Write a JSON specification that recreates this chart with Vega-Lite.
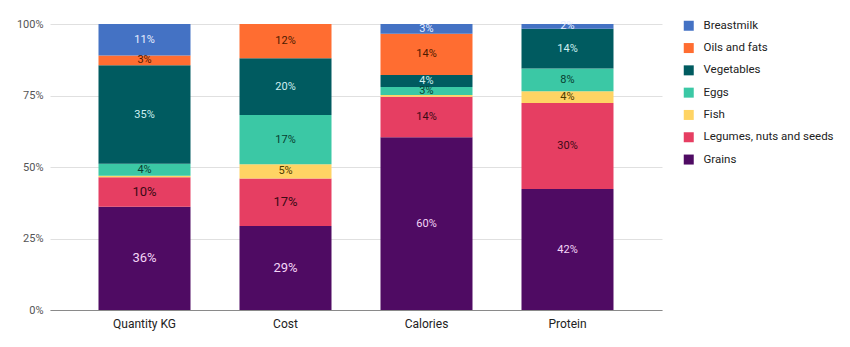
{
  "$schema": "https://vega.github.io/schema/vega-lite/v6.json",
  "width": 612,
  "height": 286,
  "autosize": "none",
  "padding": {"left": 50, "top": 24, "right": 188, "bottom": 37},
  "background": "white",
  "config": {"font": "Roboto", "view": {"stroke": null}},
  "data": {
    "values": [
      {"metric": "Quantity KG", "category": "Grains", "value": 0.361},
      {"metric": "Quantity KG", "category": "Legumes, nuts and seeds", "value": 0.103},
      {"metric": "Quantity KG", "category": "Fish", "value": 0.005},
      {"metric": "Quantity KG", "category": "Eggs", "value": 0.042},
      {"metric": "Quantity KG", "category": "Vegetables", "value": 0.345},
      {"metric": "Quantity KG", "category": "Oils and fats", "value": 0.034},
      {"metric": "Quantity KG", "category": "Breastmilk", "value": 0.110},
      {"metric": "Cost", "category": "Grains", "value": 0.294},
      {"metric": "Cost", "category": "Legumes, nuts and seeds", "value": 0.166},
      {"metric": "Cost", "category": "Fish", "value": 0.050},
      {"metric": "Cost", "category": "Eggs", "value": 0.172},
      {"metric": "Cost", "category": "Vegetables", "value": 0.198},
      {"metric": "Cost", "category": "Oils and fats", "value": 0.120},
      {"metric": "Calories", "category": "Grains", "value": 0.604},
      {"metric": "Calories", "category": "Legumes, nuts and seeds", "value": 0.142},
      {"metric": "Calories", "category": "Fish", "value": 0.006},
      {"metric": "Calories", "category": "Eggs", "value": 0.028},
      {"metric": "Calories", "category": "Vegetables", "value": 0.042},
      {"metric": "Calories", "category": "Oils and fats", "value": 0.144},
      {"metric": "Calories", "category": "Breastmilk", "value": 0.034},
      {"metric": "Protein", "category": "Grains", "value": 0.423},
      {"metric": "Protein", "category": "Legumes, nuts and seeds", "value": 0.301},
      {"metric": "Protein", "category": "Fish", "value": 0.041},
      {"metric": "Protein", "category": "Eggs", "value": 0.079},
      {"metric": "Protein", "category": "Vegetables", "value": 0.139},
      {"metric": "Protein", "category": "Breastmilk", "value": 0.017}
    ]
  },
  "transform": [
    {"calculate": "indexof(['Grains','Legumes, nuts and seeds','Fish','Eggs','Vegetables','Oils and fats','Breastmilk'], datum.category)", "as": "ord"}
  ],
  "encoding": {
    "x": {
      "field": "metric", "type": "nominal",
      "sort": ["Quantity KG", "Cost", "Calories", "Protein"],
      "scale": {"paddingInner": 0.3475, "paddingOuter": 0.344},
      "axis": {"title": null, "labelAngle": 0, "ticks": false, "domainColor": "#8a8a8a", "labelFontSize": 12, "labelColor": "#222", "labelPadding": 8}
    },
    "order": {"field": "ord", "type": "quantitative"}
  },
  "layer": [
    {
      "mark": {"type": "bar"},
      "encoding": {
        "y": {
          "field": "value", "type": "quantitative", "stack": "zero",
          "scale": {"domain": [0, 1]},
          "axis": {"title": null, "format": ".0%", "values": [0, 0.25, 0.5, 0.75, 1], "domain": false, "ticks": false, "labelPadding": 7, "labelFontSize": 11, "labelColor": "#555", "gridColor": "#e0e0e0"}
        },
        "color": {
          "field": "category", "type": "nominal",
          "scale": {
            "domain": ["Breastmilk", "Oils and fats", "Vegetables", "Eggs", "Fish", "Legumes, nuts and seeds", "Grains"],
            "range": ["#4472c4", "#ff6d31", "#005b60", "#3bc8a5", "#ffd464", "#e63e62", "#4f0b63"]
          },
          "legend": {"title": null, "orient": "none", "legendX": 633, "legendY": -4, "symbolType": "square", "symbolSize": 100, "symbolStrokeWidth": 0, "labelFontSize": 11.5, "labelColor": "#222", "labelOffset": 9, "rowPadding": 9.3}
        }
      }
    },
    {
      "mark": {"type": "text", "baseline": "middle", "align": "center"},
      "encoding": {
        "y": {"field": "value", "type": "quantitative", "stack": "zero", "bandPosition": 0.5},
        "text": {"condition": {"test": "datum.value < 0.01", "value": ""}, "field": "value", "type": "quantitative", "format": ".0%"},
        "size": {"condition": {"test": "(datum.metric === 'Quantity KG' || datum.metric === 'Cost') && (datum.category === 'Grains' || datum.category === 'Legumes, nuts and seeds')", "value": 13}, "value": 11},
        "color": {
          "condition": [
            {"test": "datum.category === 'Grains'", "value": "#f4d6f7"},
            {"test": "datum.category === 'Vegetables'", "value": "#cfeff0"},
            {"test": "datum.category === 'Breastmilk'", "value": "#e8eeff"},
            {"test": "datum.category === 'Legumes, nuts and seeds'", "value": "#3b0a15"},
            {"test": "datum.category === 'Oils and fats'", "value": "#4d1a00"},
            {"test": "datum.category === 'Eggs'", "value": "#083d30"}
          ],
          "value": "#4a3b00"
        }
      }
    }
  ]
}
